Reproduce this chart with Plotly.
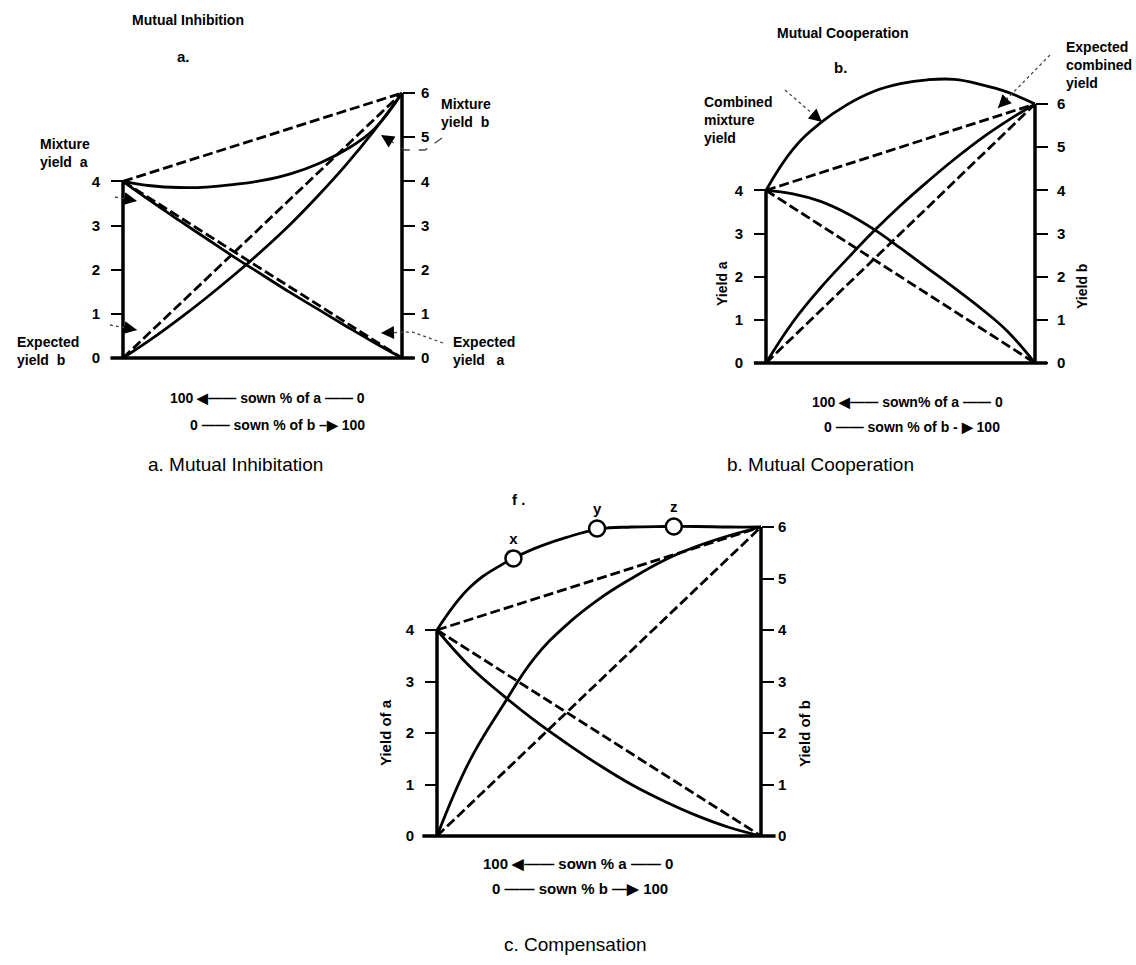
import plotly.graph_objects as go

W, H = 1136, 965

# ---------------- data ----------------
sown_b = [0, 10, 20, 30, 40, 50, 60, 70, 80, 90, 100]   # sown % of b
mono_a = 4
mono_b = 6
exp_x = [0, 100]
exp_a = [mono_a, 0]
exp_b = [0, mono_b]
exp_comb = [mono_a, mono_b]

# a. Mutual inhibition
a_mix_a = [4, 3.55, 3.12, 2.7, 2.28, 1.88, 1.48, 1.1, 0.72, 0.35, 0]
a_mix_b = [0, 0.42, 0.88, 1.37, 1.89, 2.44, 3.03, 3.68, 4.38, 5.15, 6]
a_comb = [4, 3.9, 3.86, 3.87, 3.93, 4.02, 4.17, 4.4, 4.72, 5.18, 6]

# b. Mutual cooperation
b_mix_a = [4, 3.92, 3.75, 3.47, 3.1, 2.66, 2.2, 1.74, 1.26, 0.72, 0]
b_mix_b = [0, 0.95, 1.72, 2.4, 3.05, 3.65, 4.2, 4.72, 5.2, 5.62, 6]
b_comb = [4, 4.95, 5.55, 5.98, 6.29, 6.47, 6.56, 6.57, 6.45, 6.27, 6.0]

# c. Compensation
c_mix_a = [4, 3.3, 2.75, 2.25, 1.8, 1.38, 1.0, 0.68, 0.4, 0.17, 0]
c_mix_b = [0, 1.45, 2.5, 3.45, 4.1, 4.6, 5.0, 5.35, 5.62, 5.83, 6]
c_comb = [4, 4.82, 5.27, 5.58, 5.8, 5.96, 6.0, 6.01, 6.01, 6.0, 6.0]
c_pts_x = [23.6, 49.4, 73.1]
c_pts_y = [5.39, 5.97, 6.01]
c_pts_lab = ["x", "y", "z"]

left_ticks = [0, 1, 2, 3, 4]
right_ticks = [0, 1, 2, 3, 4, 5, 6]

# ---------------- layout helpers ----------------
XR = [-6, 106]
YR = [-0.25, 6.75]


def px(x):
    return x / W


def py(y):
    return 1 - y / H


FONT = "Liberation Sans"

fig = go.Figure()
layout = dict(width=W, height=H, margin=dict(l=0, r=0, t=0, b=0),
              paper_bgcolor="white", plot_bgcolor="white",
              showlegend=False, autosize=False)

annotations = []
shapes = []

# panel geometry: x pixel of 0 and 100, y pixel of 0 and 6
panels = [
    dict(xL=123, xR=402, y0=358, y6=93, mix_a=a_mix_a, mix_b=a_mix_b, comb=a_comb,
         lstand=8, rstand=3),
    dict(xL=766, xR=1035, y0=363, y6=104, mix_a=b_mix_a, mix_b=b_mix_b, comb=b_comb,
         lstand=8, rstand=6),
    dict(xL=437, xR=761, y0=836, y6=527, mix_a=c_mix_a, mix_b=c_mix_b, comb=c_comb,
         lstand=8, rstand=1),
]

LW = 2.8
DASH = "10px,4px"

for i, p in enumerate(panels):
    ppx = (p["xR"] - p["xL"]) / 100.0
    ppy = (p["y0"] - p["y6"]) / 6.0
    dx0 = p["xL"] + XR[0] * ppx
    dx1 = p["xL"] + XR[1] * ppx
    dy_bot = p["y0"] - YR[0] * ppy
    dy_top = p["y0"] - YR[1] * ppy
    xn = "x" if i == 0 else f"x{i+1}"
    yl = 2 * i + 1
    yr = 2 * i + 2
    yln = "y" if yl == 1 else f"y{yl}"
    yrn = f"y{yr}"
    xkey = "xaxis" if i == 0 else f"xaxis{i+1}"
    layout[xkey] = dict(domain=[px(dx0), px(dx1)], range=XR, visible=False,
                        anchor=yln, fixedrange=True)
    yaxis_common = dict(domain=[py(dy_bot), py(dy_top)], range=YR, showgrid=False,
                        zeroline=False, showline=False, ticks="outside", ticklen=12,
                        tickwidth=2, tickcolor="black", fixedrange=True,
                        tickfont=dict(family=FONT, size=15, color="black", weight="bold"))
    layout["yaxis" if yl == 1 else f"yaxis{yl}"] = dict(
        yaxis_common, tickvals=left_ticks, anchor="free", position=px(p["xL"]),
        side="left", ticklabelstandoff=p["lstand"])
    layout[f"yaxis{yr}"] = dict(
        yaxis_common, tickvals=right_ticks, anchor="free", position=px(p["xR"]),
        side="right", overlaying=yln, ticklabelstandoff=p["rstand"])

    def add(x, y, dash=None, width=LW, yaxis=yln):
        fig.add_trace(go.Scatter(x=x, y=y, mode="lines", xaxis=xn, yaxis=yaxis,
                                 line=dict(color="black", width=width, dash=dash,
                                           shape="spline", smoothing=1.2),
                                 hoverinfo="skip"))

    # frame
    add([0, 0], [0, mono_a], width=3.5)
    add([100, 100], [0, mono_b], width=3.5)
    add([-4.5, 104.5], [0, 0], width=3.5)
    # expected (dashed)
    add(exp_x, exp_a, dash=DASH)
    add(exp_x, exp_b, dash=DASH)
    add(exp_x, exp_comb, dash=DASH)
    # mixture (solid)
    add(sown_b, p["mix_a"])
    add(sown_b, p["mix_b"])
    add(sown_b, p["comb"])
    # invisible trace for right axis
    fig.add_trace(go.Scatter(x=[0], y=[0], mode="markers", xaxis=xn, yaxis=yrn,
                             marker=dict(opacity=0), hoverinfo="skip"))

    if i == 2:
        fig.add_trace(go.Scatter(x=c_pts_x, y=c_pts_y, mode="markers+text", xaxis=xn,
                                 yaxis=yln, text=c_pts_lab, textposition="top center",
                                 textfont=dict(family=FONT, size=15, color="black", weight="bold"),
                                 marker=dict(symbol="circle", size=16, color="white",
                                             line=dict(color="black", width=2.5)),
                                 cliponaxis=False, hoverinfo="skip"))


def text(x, y, t, size=14, bold=True, angle=0, align="center", xanchor="center"):
    annotations.append(dict(x=px(x), y=py(y), xref="paper", yref="paper", text=t,
                            showarrow=False, textangle=angle, align=align,
                            xanchor=xanchor, yanchor="middle",
                            font=dict(family=FONT, size=size, color="black",
                                      weight="bold" if bold else "normal")))


def leader(pts, tip, dash="dot"):
    # dashed leader line through pts ending at tip, arrowhead at tip
    path = "M " + " L ".join(f"{px(x):.5f} {py(y):.5f}" for x, y in pts + [tip])
    shapes.append(dict(type="path", path=path, xref="paper", yref="paper",
                       line=dict(color="#444", width=1.3, dash=dash)))
    lx, ly = pts[-1]
    tx, ty = tip
    d = ((lx - tx) ** 2 + (ly - ty) ** 2) ** 0.5
    ax = (lx - tx) / d * 9
    ay = (ly - ty) / d * 9
    annotations.append(dict(x=px(tx), y=py(ty), xref="paper", yref="paper",
                            showarrow=True, ax=ax, ay=ay, arrowhead=2, arrowsize=1.3,
                            arrowwidth=2, arrowcolor="black", text=""))


# ---- panel a texts ----
text(188, 20, "Mutual Inhibition", size=14)
text(183, 57, "a.", size=15)
text(65, 153, "Mixture<br>yield  a", align="left")
text(466, 113, "Mixture<br>yield  b", align="left")
text(48, 351, "Expected<br>yield  b", align="left")
text(484, 351, "Expected<br>yield   a", align="left")
text(267, 398, "100 ◀—— sown % of a —— 0")
text(277, 425, "0 —— sown % of b –▶ 100")
text(235, 464, "a. Mutual Inhibitation", size=19, bold=False)
leader([(442, 138), (425, 150), (405, 150)], (381, 135), dash="dash")
leader([(115, 197)], (137, 201))
leader([(110, 325)], (137, 330))
leader([(443, 343), (412, 332)], (381, 333))

# ---- panel b texts ----
text(842, 33, "Mutual Cooperation", size=14)
text(840, 68, "b.", size=15)
text(702, 120, "Combined<br>mixture<br>yield", align="left", xanchor="left")
text(1064, 65, "Expected<br>combined<br>yield", align="left", xanchor="left")
text(722, 284, "Yield a", angle=-90)
text(1082, 287, "Yield b", angle=-90)
text(907, 402, "100 ◀—— sown% of a —— 0")
text(912, 427, "0 —— sown % of b - ▶ 100")
text(820, 464, "b. Mutual Cooperation", size=19, bold=False)
leader([(785, 90)], (822, 122))
leader([(1050, 55)], (998, 108))

# ---- panel c texts ----
text(518, 500, "f .", size=15)
text(385, 733, "Yield of a", size=15, angle=-90)
text(804, 733, "Yield of b", size=15, angle=-90)
text(578, 863, "100 ◀—— sown % a —— 0", size=15)
text(580, 888, "0 —— sown % b —▶ 100", size=15)
text(575, 944, "c. Compensation", size=19, bold=False)

layout["annotations"] = annotations
layout["shapes"] = shapes
fig.update_layout(**layout)
fig.write_html("out.html")
